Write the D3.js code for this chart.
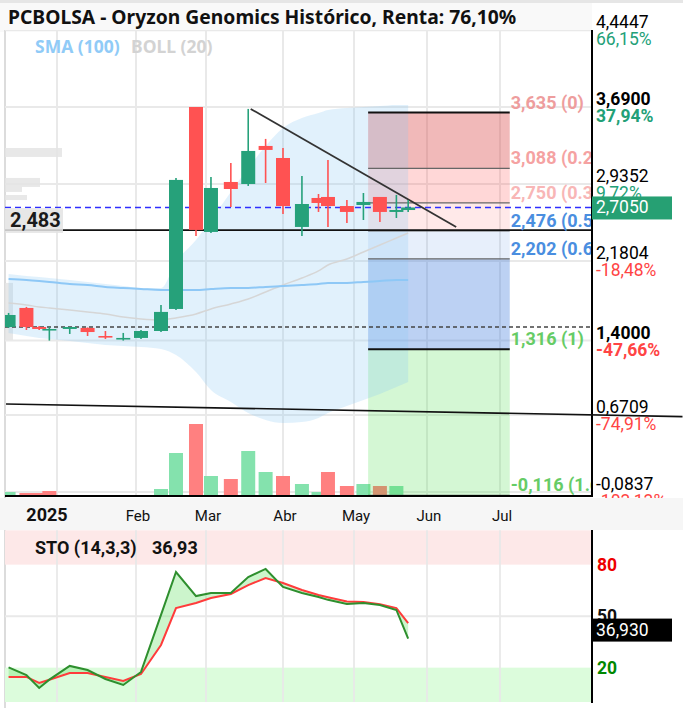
<!DOCTYPE html>
<html><head><meta charset="utf-8">
<script src="https://cdn.jsdelivr.net/npm/d3@7"></script>
<style>body{margin:0;background:#fff}svg{display:block}</style>
</head><body>
<svg id="c" width="683" height="708"></svg>
<script>
// ---------------- DATA ----------------
const candleDates = ["2024-12-13","2024-12-20","2024-12-25","2024-12-29","2025-01-06","2025-01-13","2025-01-20","2025-01-27","2025-02-03","2025-02-11","2025-02-17","2025-02-25","2025-03-03","2025-03-11","2025-03-18","2025-03-25","2025-04-01","2025-04-09","2025-04-16","2025-04-20","2025-04-28","2025-05-05","2025-05-12","2025-05-19","2025-05-24"];
const opens  = [1.533,1.720,1.533,1.514,1.514,1.524,1.445,1.411,1.426,1.494,1.710,3.690,2.465,2.955,2.935,3.308,3.190,2.514,2.798,2.808,2.719,2.729,2.808,2.661,2.680];
const highs  = [1.671,1.730,1.543,1.533,1.533,1.529,1.494,1.475,1.504,1.749,2.994,3.690,3.004,3.141,3.671,3.377,3.288,3.014,2.837,3.171,2.778,2.847,2.808,2.828,2.778];
const lows   = [1.524,1.504,1.504,1.400,1.465,1.445,1.416,1.400,1.416,1.484,1.700,2.426,2.455,2.710,2.916,2.945,2.641,2.426,2.661,2.514,2.553,2.582,2.563,2.602,2.661];
const closes = [1.651,1.533,1.514,1.514,1.533,1.484,1.435,1.426,1.494,1.681,2.975,2.485,2.896,2.886,3.259,3.269,2.719,2.739,2.749,2.719,2.661,2.759,2.661,2.680,2.705];
const volumes = [0.3,0.2,0.2,0.4,0,0,0,0,0,0.6,4.2,7.1,1.9,1.6,4.4,2.3,1.9,1.1,0.3,2.3,0.9,1.1,0.9,0.9,0];
const bollUpper = [2.053,2.034,2.024,2.014,1.994,1.975,1.955,1.935,1.916,1.916,2.171,2.386,2.583,2.857,3.092,3.308,3.484,3.582,3.631,3.661,3.680,3.690,3.700,3.710,3.710];
const bollMid   = [1.769,1.749,1.730,1.720,1.700,1.681,1.661,1.631,1.612,1.602,1.622,1.661,1.710,1.759,1.808,1.877,1.945,2.014,2.083,2.141,2.200,2.269,2.337,2.406,2.455];
const bollLower = [1.475,1.445,1.426,1.416,1.396,1.377,1.357,1.347,1.337,1.318,1.259,1.092,0.916,0.798,0.690,0.622,0.592,0.602,0.641,0.690,0.759,0.818,0.877,0.945,0.994];
const sma100    = [2.004,1.994,1.984,1.975,1.955,1.945,1.926,1.916,1.906,1.896,1.896,1.896,1.906,1.916,1.916,1.926,1.935,1.945,1.955,1.965,1.965,1.975,1.984,1.994,1.994];
const stoK = [20.2,15.7,8.2,13.0,21.0,18.6,13.4,9.9,17.5,50.7,75.7,61.7,63.5,63.5,72.8,77.5,67.0,63.5,61.2,59.5,57.1,57.7,56.5,53.6,36.93];
const stoD = [14.6,14.6,11.1,13.0,16.9,16.9,14.6,12.2,16.3,33.2,54.7,57.7,60.6,62.9,68.1,72.2,69.3,65.2,62.3,61.0,58.5,58.2,57.0,54.7,46.0];

const priceTicks = [4.4447,3.69,2.9352,2.1804,1.40,0.6709,-0.0837];
const priceTickLabels = ["4,4447","3,6900","2,9352","2,1804","1,4000","0,6709","-0,0837"];
const pctLabels = ["66,15%","37,94%","9,72%","-18,48%","-47,66%","-74,91%","-103,13%"];
const emphasisTicks = [3.69,1.40];
const monthDates = ["2025-01-01","2025-02-01","2025-03-01","2025-04-01","2025-05-01","2025-06-01","2025-07-01"];
const monthLabels = ["2025","Feb","Mar","Abr","May","Jun","Jul"];
const fibRatios = [0,0.236,0.382,0.5,0.618,1,1.618];
const fibPrices = [3.635,3.088,2.750,2.476,2.202,1.316,-0.116];
const fibLabels = ["3,635 (0)","3,088 (0.236)","2,750 (0.382)","2,476 (0.5)","2,202 (0.618)","1,316 (1)","-0,116 (1.618)"];
const fibDates = ["2025-05-07","2025-07-05"];
const trendLine = [["2025-03-19",3.671],["2025-06-13",2.514]];
const longLine = [["2024-12-12",0.779],["2025-09-14",0.655]];
const supportLevel = 2.483, supportLabel = "2,483";
const dottedLevel = 1.533;
const lastPrice = 2.705, lastPriceLabel = "2,7050";
const vpLow  = [3.200,2.906,2.857,2.778,2.455,1.406];
const vpHigh = [3.288,2.994,2.906,2.827,2.680,1.965];
const vpVol  = [57,35,17,22,58,8];
const stoTicks = [80,50,20];
const stoLast = 36.93, stoLastLabel = "36,930";
const stoName = "STO (14,3,3)", stoValue = "36,93";
const title = "PCBOLSA - Oryzon Genomics Histórico, Renta: 76,10%";

// ---------------- SETUP ----------------
const parse = d3.timeParse("%Y-%m-%d");
const svg = d3.select("#c");
const L = 5, R = 592, T = 30, B = 496;
const x = d3.scaleTime().domain(monthDates.map(parse)).range([57,136,206,283,354,427,500]);
const y = d3.scaleLinear().domain([-0.1235, 4.4447]).range([B, T]);
const yv = d3.scaleLinear().domain([0, 8]).range([495, 415]);
const ys = d3.scaleLinear().domain([0, 100]).range([702, 530.3]);
const vpW = d3.scaleLinear().domain([0, 60]).range([0, 60]);
const cw = 14;
const GREEN = "#26a17a", RED = "#ff5252";
const font = "Roboto, 'Noto Sans', sans-serif";
const cd = candleDates.map(parse);
const idx = d3.range(candleDates.length);

const defs = svg.append("defs");
defs.append("clipPath").attr("id","main").append("rect").attr("x",L).attr("y",T).attr("width",R-L).attr("height",B-T);
defs.append("clipPath").attr("id","sto").append("rect").attr("x",L).attr("y",530).attr("width",R-L).attr("height",173);

// title bar
svg.append("rect").attr("x",0).attr("y",0).attr("width",683).attr("height",3).attr("fill","#e6e6e6");
svg.append("rect").attr("x",0).attr("y",3).attr("width",R).attr("height",T-1).attr("fill","#f9f9f9");
svg.append("line").attr("x1",L).attr("x2",L).attr("y1",T).attr("y2",708).attr("stroke","#dcdcdc").attr("stroke-width",2);

const main = svg.append("g").attr("clip-path","url(#main)");

// gridlines
main.selectAll(".vg").data(monthDates).join("line")
  .attr("x1",d=>x(parse(d))).attr("x2",d=>x(parse(d))).attr("y1",T).attr("y2",B)
  .attr("stroke","#e9e9e9").attr("stroke-width",2);
main.selectAll(".hg").data(priceTicks).join("line")
  .attr("x1",L).attr("x2",R).attr("y1",d=>y(d)).attr("y2",d=>y(d))
  .attr("stroke","#e9e9e9").attr("stroke-width",2);

// volume profile
main.selectAll(".vp").data(vpVol).join("rect")
  .attr("x",L).attr("width",d=>vpW(d))
  .attr("y",(d,i)=>y(vpHigh[i])).attr("height",(d,i)=>y(vpLow[i])-y(vpHigh[i]))
  .attr("fill","#e4e4e4").attr("opacity",0.85);

// volume bars
main.selectAll(".vol").data(idx).join("rect")
  .attr("x",i=>x(cd[i])-cw/2).attr("width",cw)
  .attr("y",i=>yv(volumes[i])).attr("height",i=>yv(0)-yv(volumes[i]))
  .attr("fill",i=> (i===0 || closes[i]>closes[i-1]) ? "#84e2ad" : "#ff8080");

// fibonacci fills
const fibFill = ["rgba(215,60,60,0.36)","rgba(255,40,40,0.19)","rgba(255,40,40,0.10)","rgba(60,120,220,0.12)","rgba(60,120,220,0.34)","rgba(60,220,60,0.22)"];
const fx0 = x(parse(fibDates[0])), fx1 = x(parse(fibDates[1]));
main.selectAll(".ff").data(fibPrices.slice(0,-1)).join("rect")
  .attr("x",fx0).attr("width",fx1-fx0)
  .attr("y",d=>y(d))
  .attr("height",(d,i)=>y(fibPrices[i+1])-y(d))
  .attr("fill",(d,i)=>fibFill[i]);

// bollinger band
main.append("path").datum(idx)
  .attr("d",d3.area().x(i=>x(cd[i])).y0(i=>y(bollLower[i])).y1(i=>y(bollUpper[i])).curve(d3.curveMonotoneX))
  .attr("fill","rgba(140,200,245,0.26)");
main.append("path").datum(idx)
  .attr("d",d3.line().x(i=>x(cd[i])).y(i=>y(bollMid[i])).curve(d3.curveMonotoneX))
  .attr("fill","none").attr("stroke","#d6d6d6").attr("stroke-width",1.5);
main.append("path").datum(idx)
  .attr("d",d3.line().x(i=>x(cd[i])).y(i=>y(sma100[i])).curve(d3.curveMonotoneX))
  .attr("fill","none").attr("stroke","#8ec8f6").attr("stroke-width",2);

// fib lines
main.selectAll(".fl").data(fibRatios).join("line")
  .attr("x1",fx0).attr("x2",fx1).attr("y1",(d,i)=>y(fibPrices[i])).attr("y2",(d,i)=>y(fibPrices[i]))
  .attr("stroke",d=>(d===0||d===1)?"#111":"#666")
  .attr("stroke-width",d=>(d===0||d===1)?2:1.2);

// horizontal levels
main.append("line").attr("x1",L).attr("x2",R).attr("y1",y(dottedLevel)).attr("y2",y(dottedLevel))
  .attr("stroke","#444").attr("stroke-width",1.5).attr("stroke-dasharray","4,3");
main.append("line").attr("x1",L).attr("x2",R).attr("y1",y(supportLevel)).attr("y2",y(supportLevel))
  .attr("stroke","#111").attr("stroke-width",1.6);
main.append("line").attr("x1",L).attr("x2",R).attr("y1",y(lastPrice)).attr("y2",y(lastPrice))
  .attr("stroke","#2f2fff").attr("stroke-width",1.5).attr("stroke-dasharray","6,4");

// trend line
main.append("line")
  .attr("x1",x(parse(trendLine[0][0]))).attr("y1",y(trendLine[0][1]))
  .attr("x2",x(parse(trendLine[1][0]))).attr("y2",y(trendLine[1][1]))
  .attr("stroke","#333").attr("stroke-width",1.8);

// candles
const cg = main.append("g");
cg.selectAll(".wick").data(idx).join("line")
  .attr("x1",i=>x(cd[i])).attr("x2",i=>x(cd[i]))
  .attr("y1",i=>y(highs[i])).attr("y2",i=>y(lows[i]))
  .attr("stroke",i=>closes[i]>=opens[i]?GREEN:RED).attr("stroke-width",1.6);
cg.selectAll(".body").data(idx).join("rect")
  .attr("x",i=>x(cd[i])-cw/2).attr("width",cw)
  .attr("y",i=>y(Math.max(opens[i],closes[i])))
  .attr("height",i=>Math.max(1.6,Math.abs(y(opens[i])-y(closes[i]))))
  .attr("fill",i=>closes[i]>=opens[i]?GREEN:RED);

// support label
main.append("rect").attr("x",L).attr("y",y(supportLevel)-22).attr("width",58).attr("height",23).attr("fill","#e6e6e6").attr("opacity",0.85);
main.append("text").attr("x",10).attr("y",y(supportLevel)-3).text(supportLabel)
  .attr("font-family",font).attr("font-weight","bold").attr("font-size",20).attr("fill","#1a1a1a");

// fib labels
const fibLabelColor = ["#ee9d9d","#f5a2a2","#f8b6b6","#4a8ee0","#4a8ee0","#66cc66","#66cc66"];
main.selectAll(".ft").data(fibLabels).join("text")
  .attr("x",fx1+1).attr("y",(d,i)=>y(fibPrices[i])-4)
  .text(d=>d)
  .attr("font-family",font).attr("font-weight","bold").attr("font-size",18)
  .attr("fill",(d,i)=>fibLabelColor[i]);

// legend
svg.append("text").attr("x",35).attr("y",53).text("SMA (100)")
  .attr("font-family","'Noto Sans', sans-serif").attr("font-weight","bold").attr("font-size",17.5).attr("fill","#90cbf7");
svg.append("text").attr("x",131).attr("y",53).text("BOLL (20)")
  .attr("font-family","'Noto Sans', sans-serif").attr("font-weight","bold").attr("font-size",17.5).attr("fill","#d3d3d3");

// title
svg.append("text").attr("x",8).attr("y",24).text(title)
  .attr("font-family","'Noto Sans', sans-serif").attr("font-weight","bold").attr("font-size",19.3).attr("fill","#111");

// right axis labels
const ra = svg.append("g").attr("font-family",font).attr("font-size",17.5);
ra.selectAll(".pv").data(priceTicks).join("text")
  .attr("x",596).attr("y",d=>y(d)-2).text((d,i)=>priceTickLabels[i])
  .attr("font-weight",d=>emphasisTicks.includes(d)?"bold":"normal").attr("fill","#000");
ra.selectAll(".pp").data(priceTicks).join("text")
  .attr("x",596).attr("y",d=>y(d)+15).text((d,i)=>pctLabels[i])
  .attr("font-weight",d=>emphasisTicks.includes(d)?"bold":"normal")
  .attr("fill",(d,i)=>pctLabels[i].startsWith("-")?"#f44":"#22a077");

// axis lines
svg.append("line").attr("x1",R).attr("x2",R).attr("y1",T).attr("y2",B+1).attr("stroke","#000").attr("stroke-width",2);
svg.append("line").attr("x1",L).attr("x2",R).attr("y1",B).attr("y2",B).attr("stroke","#000").attr("stroke-width",2);

// last price box
svg.append("rect").attr("x",R).attr("y",y(lastPrice)-11).attr("width",80).attr("height",23).attr("fill","#26a073");
svg.append("text").attr("x",596).attr("y",y(lastPrice)+6).text(lastPriceLabel)
  .attr("font-family",font).attr("font-size",17.5).attr("fill","#fff");

// long line (unclipped)
svg.append("line")
  .attr("x1",x(parse(longLine[0][0]))).attr("y1",y(longLine[0][1]))
  .attr("x2",x(parse(longLine[1][0]))).attr("y2",y(longLine[1][1]))
  .attr("stroke","#111").attr("stroke-width",1.6);

// x axis band
svg.append("rect").attr("x",0).attr("y",B+2).attr("width",683).attr("height",32).attr("fill","#f6f6f6");
svg.selectAll(".ml").data(monthDates).join("text")
  .attr("x",(d,i)=> i===0 ? x(parse(d))-10 : x(parse(d))+2).attr("y",521)
  .attr("text-anchor","middle").text((d,i)=>monthLabels[i])
  .attr("font-family",font).attr("font-size",(d,i)=>i===0?18:15)
  .attr("font-weight",(d,i)=>i===0?"bold":"normal").attr("fill","#111");

// ---------------- STO PANEL ----------------
const sto = svg.append("g").attr("clip-path","url(#sto)");
sto.append("rect").attr("x",L).attr("width",R-L).attr("y",ys(100)).attr("height",ys(80)-ys(100)).attr("fill","#fde8e8");
sto.append("rect").attr("x",L).attr("width",R-L).attr("y",ys(20)).attr("height",ys(0)-ys(20)).attr("fill","#dcfcdc");
sto.selectAll(".svg").data(monthDates).join("line")
  .attr("x1",d=>x(parse(d))).attr("x2",d=>x(parse(d))).attr("y1",ys(100)).attr("y2",ys(0))
  .attr("stroke","#e9e9e9").attr("stroke-width",2).attr("opacity",0.9);
sto.append("line").attr("x1",L).attr("x2",R).attr("y1",ys(50)).attr("y2",ys(50)).attr("stroke","#e9e9e9").attr("stroke-width",2);
sto.append("path").datum(idx)
  .attr("d",d3.area().x(i=>x(cd[i])).y0(i=>ys(stoD[i])).y1(i=>ys(stoK[i])))
  .attr("fill","rgba(110,225,110,0.35)");
sto.append("path").datum(idx)
  .attr("d",d3.line().x(i=>x(cd[i])).y(i=>ys(stoD[i])))
  .attr("fill","none").attr("stroke","#ff3b3b").attr("stroke-width",2);
sto.append("path").datum(idx)
  .attr("d",d3.line().x(i=>x(cd[i])).y(i=>ys(stoK[i])))
  .attr("fill","none").attr("stroke","#2e8f2e").attr("stroke-width",2);
svg.append("line").attr("x1",R).attr("x2",R).attr("y1",530).attr("y2",703).attr("stroke","#000").attr("stroke-width",2);
svg.append("text").attr("x",35).attr("y",554).text(stoName)
  .attr("font-family",font).attr("font-weight","bold").attr("font-size",18).attr("fill","#111");
svg.append("text").attr("x",152).attr("y",554).text(stoValue)
  .attr("font-family",font).attr("font-weight","bold").attr("font-size",18).attr("fill","#111");
const stoColor = {80:"#e00",50:"#111",20:"#080"};
svg.selectAll(".st").data(stoTicks).join("text")
  .attr("x",597).attr("y",d=>ys(d)+6).text(d=>d)
  .attr("font-family",font).attr("font-weight","bold").attr("font-size",17.5).attr("fill",d=>stoColor[d]);
svg.append("rect").attr("x",R).attr("y",ys(stoLast)-20).attr("width",80).attr("height",23).attr("fill","#000");
svg.append("text").attr("x",596).attr("y",ys(stoLast)-3).text(stoLastLabel)
  .attr("font-family",font).attr("font-size",17.5).attr("fill","#fff");
</script>
</body></html>
